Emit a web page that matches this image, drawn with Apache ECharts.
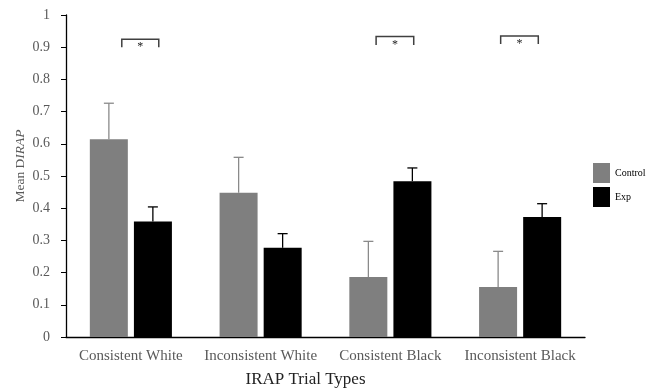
<!DOCTYPE html>
<html>
<head>
<meta charset="utf-8">
<script src="https://cdn.jsdelivr.net/npm/echarts@6/dist/echarts.min.js"></script>
<style>
  html, body { margin: 0; padding: 0; background: #fff; }
  #chart { width: 656px; height: 389px; }
</style>
</head>
<body>
<div id="chart"></div>
<script>
// values
var categories = ['Consistent White', 'Inconsistent White', 'Consistent Black', 'Inconsistent Black'];
var controlMeans = [0.614, 0.448, 0.186, 0.155];
var controlErr = [0.112, 0.110, 0.111, 0.111];
var expMeans = [0.359, 0.277, 0.484, 0.373];
var expErr = [0.045, 0.044, 0.041, 0.041];
// significance brackets: [xFrom, xTo, yLow, yTop] in category units
var brackets = [
  [-0.07, 0.215, 0.90, 0.925],
  [1.89, 2.18, 0.907, 0.933],
  [2.85, 3.14, 0.91, 0.935]
];

var FONT = '"Liberation Serif", "DejaVu Serif", serif';

function errorRows(means, errs) {
  return means.map(function (m, i) { return [i, m, m + errs[i]]; });
}

// draws an upward error bar with a cap, shifted to its bar in the group
function errorBar(offset, color) {
  return function (params, api) {
    var base = api.coord([api.value(0), api.value(1)]);
    var top = api.coord([api.value(0), api.value(2)]);
    var x = base[0] + offset;
    return {
      type: 'group',
      children: [
        { type: 'line', shape: { x1: x, y1: base[1], x2: x, y2: top[1] }, style: { stroke: color, lineWidth: 1.3 } },
        { type: 'line', shape: { x1: x - 5, y1: top[1], x2: x + 5, y2: top[1] }, style: { stroke: color, lineWidth: 1.3 } }
      ]
    };
  };
}

var chart = echarts.init(document.getElementById('chart'));
chart.setOption({
  animation: false,
  textStyle: { fontFamily: FONT },
  grid: { left: 66, right: 71, top: 15, bottom: 52, outerBoundsMode: 'none' },
  legend: {
    data: ['Control', 'Exp'],
    orient: 'vertical',
    left: 593,
    top: 163,
    padding: 0,
    itemWidth: 17,
    itemHeight: 20,
    itemGap: 4,
    icon: 'rect',
    textStyle: { fontFamily: FONT, fontSize: 10, color: '#000' }
  },
  xAxis: [{
    type: 'category',
    data: categories,
    axisLine: { lineStyle: { color: '#000', width: 1.3 } },
    axisTick: { show: false },
    axisLabel: { color: '#595959', fontSize: 15, margin: 12, interval: 0, fontFamily: FONT },
    name: 'IRAP Trial Types',
    nameLocation: 'middle',
    nameGap: 34,
    nameMoveOverlap: false,
    nameTextStyle: { color: '#222', fontSize: 17, fontFamily: FONT, padding: [0, 40, 0, 0] }
  }, {
    type: 'value',
    min: -0.5,
    max: 3.5,
    show: false
  }],
  yAxis: {
    type: 'value',
    min: 0,
    max: 1,
    interval: 0.1,
    splitLine: { show: false },
    axisLine: { show: true, onZero: false, lineStyle: { color: '#000', width: 1.3 } },
    axisTick: { show: true, length: 5, lineStyle: { color: '#000' } },
    axisLabel: { color: '#595959', fontSize: 14, margin: 16, fontFamily: FONT },
    name: '{a|Mean D}{b|IRAP}',
    nameLocation: 'middle',
    nameGap: 39,
    nameMoveOverlap: false,
    nameTextStyle: {
      padding: [0, 0, 0, 20],
      rich: {
        a: { color: '#595959', fontSize: 13.5, fontFamily: FONT },
        b: { color: '#595959', fontSize: 13.5, fontFamily: FONT, fontStyle: 'italic' }
      }
    }
  },
  series: [
    {
      name: 'Control',
      type: 'bar',
      data: controlMeans,
      barWidth: 38,
      barGap: '16%',
      itemStyle: { color: '#7f7f7f' }
    },
    {
      name: 'Exp',
      type: 'bar',
      data: expMeans,
      barWidth: 38,
      itemStyle: { color: '#000' }
    },
    {
      type: 'custom',
      renderItem: errorBar(-22, '#8a8a8a'),
      data: errorRows(controlMeans, controlErr),
      z: 5
    },
    {
      type: 'custom',
      renderItem: errorBar(22, '#000'),
      data: errorRows(expMeans, expErr),
      z: 5
    },
    {
      type: 'custom',
      xAxisIndex: 1,
      data: brackets,
      renderItem: function (params, api) {
        var a = api.coord([api.value(0), api.value(3)]);
        var b = api.coord([api.value(1), api.value(3)]);
        var low = api.coord([api.value(0), api.value(2)]);
        return {
          type: 'group',
          children: [
            {
              type: 'polyline',
              shape: { points: [[a[0], low[1]], [a[0], a[1]], [b[0], b[1]], [b[0], low[1]]] },
              style: { stroke: '#404040', lineWidth: 1.5, fill: null }
            },
            {
              type: 'text',
              style: {
                text: '*',
                x: (a[0] + b[0]) / 2,
                y: a[1] + 2,
                textAlign: 'center',
                textVerticalAlign: 'top',
                fontSize: 12,
                fontFamily: FONT,
                fill: '#222'
              }
            }
          ]
        };
      }
    }
  ]
});
</script>
</body>
</html>
